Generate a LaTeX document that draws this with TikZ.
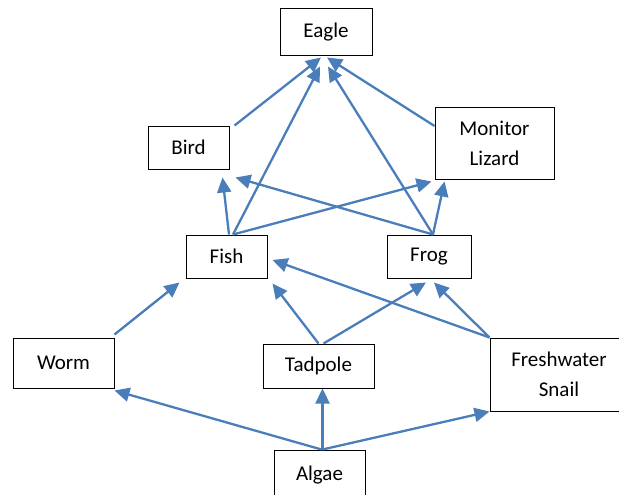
\documentclass[tikz,border=0pt]{standalone}
\usepackage{fontspec}
\setmainfont{Carlito}
\usepackage{tikz}
\usetikzlibrary{arrows.meta,positioning}
\definecolor{arrowblue}{RGB}{74,126,187}

\begin{document}
\begin{tikzpicture}[x=1pt,y=-1pt,
    animal/.style={draw,line width=1pt,inner sep=0pt,align=center,
      font=\fontsize{21}{30}\selectfont},
    eats/.style={draw=arrowblue,line width=2.3pt,
      -{Triangle[length=15pt,width=14pt]}}]
	  \useasboundingbox (0,0) rectangle (619,495);
	  % Draw the boxes
	  \node (eagle) [animal,minimum width=92pt,minimum height=47pt] at (326,32.5) {Eagle};
	  \node (bird) [animal,minimum width=81pt,minimum height=43pt] at (188.5,147.5) {Bird};
	  \node (monitor) [animal,minimum width=119pt,minimum height=71pt] at (494.5,143.5) {Monitor\\Lizard};
	  \node (fish) [animal,minimum width=81pt,minimum height=43pt] at (226.5,256.5) {Fish};
	  \node (frog) [animal,minimum width=84pt,minimum height=43pt] at (429,256.5) {Frog};
	  \node (worm) [animal,minimum width=101pt,minimum height=50pt] at (63.5,363) {Worm};
	  \node (tadpole) [animal,minimum width=111pt,minimum height=44pt] at (318.5,366) {Tadpole};
	  \node (snail) [animal,minimum width=138pt,minimum height=73pt] at (559,374.5) {Freshwater\\Snail};
	  \node (algae) [animal,minimum width=91pt,minimum height=50pt] at (319.5,475) {Algae};
	  % Draw the arrows into Eagle
	  \draw [eats] ([xshift=5pt]bird.north east) -- ([xshift=-5pt,yshift=-1pt]eagle.south);
	  \draw [eats] ([yshift=17.5pt]monitor.west) -- ([xshift=1pt,yshift=-1pt]eagle.south);
	  \draw [eats] ([xshift=6.5pt]fish.north) -- ([xshift=-6pt,yshift=-10pt]eagle.south);
	  \draw [eats] ([xshift=4pt]frog.north) -- ([xshift=2pt,yshift=-10pt]eagle.south);
	  % Draw the arrows into Bird and Monitor Lizard
	  \draw [eats] ([xshift=2.5pt]fish.north) -- ([xshift=-7pt,yshift=-8pt]bird.south east);
	  \draw [eats] ([xshift=4pt]frog.north) -- ([xshift=6pt,yshift=-8pt]bird.south east);
	  \draw [eats] ([xshift=6.5pt]fish.north) -- ([xshift=-3pt,yshift=-2pt]monitor.south west);
	  \draw [eats] ([xshift=4pt]frog.north) -- ([xshift=10pt,yshift=-2pt]monitor.south west);
	  % Draw the arrows into Fish and Frog
	  \draw [eats] ([yshift=3pt]worm.north east) -- ([xshift=-6pt,yshift=-4pt]fish.south west);
	  \draw [eats] (tadpole.north) -- ([xshift=5pt,yshift=-5pt]fish.south east);
	  \draw [eats] (snail.north west) -- ([xshift=5pt,yshift=-3.5pt]fish.east);
	  \draw [eats] ([xshift=5pt]tadpole.north) -- ([xshift=-3pt,yshift=-4pt]frog.south);
	  \draw [eats] (snail.north west) -- ([xshift=5pt,yshift=-4pt]frog.south);
	  % Draw the arrows out of Algae
	  \draw [eats] ([xshift=2pt]algae.north) -- ([yshift=-2pt]worm.south east);
	  \draw [eats] ([xshift=3pt]algae.north) -- ([xshift=4pt]tadpole.south);
	  \draw [eats] ([xshift=3pt]algae.north) -- (snail.south west);
      \end{tikzpicture}
\end{document}
